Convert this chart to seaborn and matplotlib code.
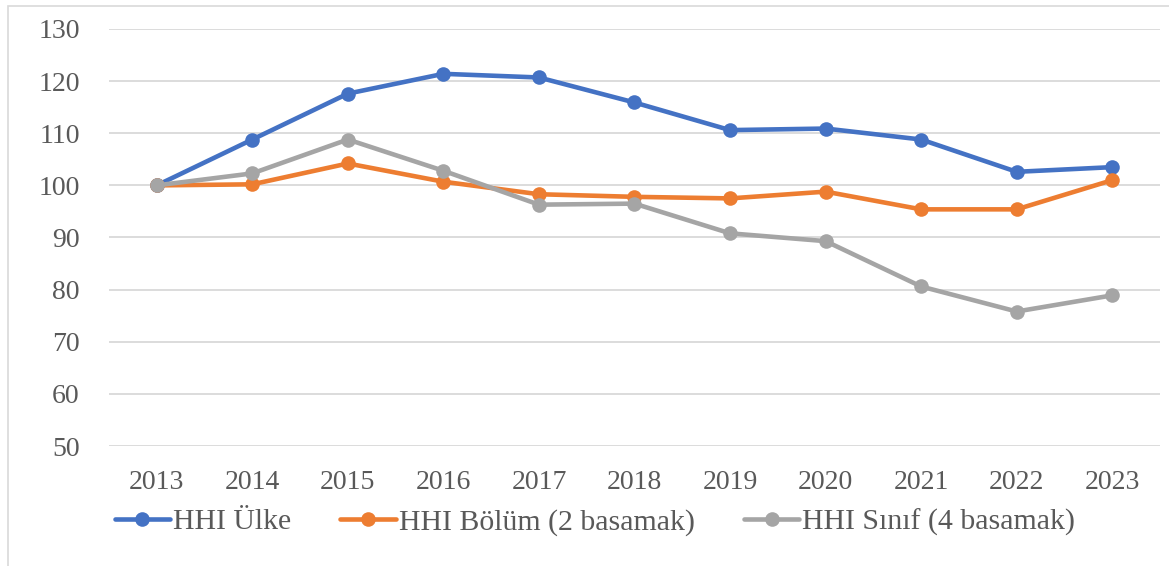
import matplotlib
matplotlib.use("Agg")
import matplotlib.pyplot as plt
import seaborn as sns
import pandas as pd
from matplotlib.patches import Rectangle

years = ["2013", "2014", "2015", "2016", "2017", "2018", "2019", "2020", "2021", "2022", "2023"]
hhi_ulke = [100, 108.8, 117.6, 121.4, 120.7, 115.9, 110.6, 110.9, 108.8, 102.6, 103.5]
hhi_bolum = [100, 100.2, 104.2, 100.7, 98.3, 97.8, 97.5, 98.8, 95.4, 95.4, 101.0]
hhi_sinif = [100, 102.3, 108.8, 102.8, 96.3, 96.5, 90.8, 89.3, 80.6, 75.8, 78.9]
series_names = ["HHI Ülke", "HHI Bölüm (2 basamak)", "HHI Sınıf (4 basamak)"]
colors = ["#4472C4", "#ED7D31", "#A5A5A5"]

df = pd.DataFrame({
    "year": years * 3,
    "value": hhi_ulke + hhi_bolum + hhi_sinif,
    "series": [series_names[0]] * 11 + [series_names[1]] * 11 + [series_names[2]] * 11,
})

sns.set_theme(style="white")
plt.rcParams["font.family"] = ["Liberation Serif", "DejaVu Serif"]

W, H = 1169, 566
fig = plt.figure(figsize=(W / 100, H / 100), dpi=100)
ax = fig.add_axes([109 / W, (H - 446) / H, (1160 - 109) / W, (446 - 29) / H])

sns.lineplot(data=df, x="year", y="value", hue="series", palette=colors,
             marker="o", markersize=10.5, markeredgewidth=0, linewidth=3.3,
             sort=False, ax=ax, legend=True)

ax.set_xlim(-0.5, 10.5)
ax.set_ylim(50, 130)
ax.set_yticks(range(50, 131, 10))
ax.yaxis.grid(True, color="#D9D9D9", linewidth=1.3)
ax.xaxis.grid(False)
for s in ax.spines.values():
    s.set_visible(False)
ax.set_xlabel("")
ax.set_ylabel("")
ax.tick_params(axis="both", length=0, labelsize=20, colors="#595959")
ax.tick_params(axis="x", pad=17)
ax.tick_params(axis="y", pad=21)

handles, labels = ax.get_legend_handles_labels()
ax.get_legend().remove()
leg = fig.legend(handles, labels, loc="center", bbox_to_anchor=(595 / W, (H - 522) / H),
                 ncol=3, frameon=False, fontsize=21.5, handlelength=1.85,
                 handletextpad=0.1, columnspacing=1.65)
for t in leg.get_texts():
    t.set_color("#595959")

fig.patches.append(Rectangle((8 / W, -0.05), 1.2, (H - 6) / H + 0.05, transform=fig.transFigure,
                             fill=False, edgecolor="#D9D9D9", linewidth=1.2))

fig.savefig("out.png", dpi=100)
